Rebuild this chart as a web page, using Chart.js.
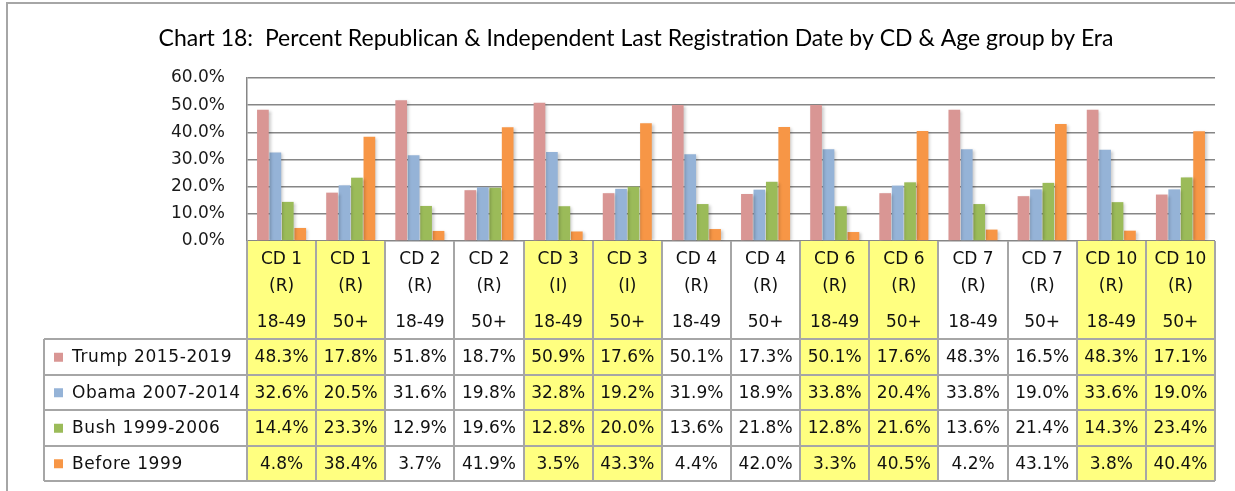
<!DOCTYPE html>
<html>
<head>
<meta charset="utf-8">
<title>Chart 18</title>
<script src="https://cdn.jsdelivr.net/npm/chart.js@4.4.1/dist/chart.umd.min.js"></script>
<style>
  body { margin: 0; background: #fff; }
  canvas { display: block; }
</style>
</head>
<body>
<canvas id="myChart" width="1235" height="491"></canvas>
<script>
// data
var districts = ["CD 1", "CD 1", "CD 2", "CD 2", "CD 3", "CD 3", "CD 4", "CD 4", "CD 6", "CD 6", "CD 7", "CD 7", "CD 10", "CD 10"];
var parties = ["(R)", "(R)", "(R)", "(R)", "(I)", "(I)", "(R)", "(R)", "(R)", "(R)", "(R)", "(R)", "(R)", "(R)"];
var ageGroups = ["18-49", "50+", "18-49", "50+", "18-49", "50+", "18-49", "50+", "18-49", "50+", "18-49", "50+", "18-49", "50+"];
var highlighted = [true, true, false, false, true, true, false, false, true, true, false, false, true, true];

var seriesNames = ["Trump 2015-2019", "Obama 2007-2014", "Bush 1999-2006", "Before 1999"];
var trump = [48.3, 17.8, 51.8, 18.7, 50.9, 17.6, 50.1, 17.3, 50.1, 17.6, 48.3, 16.5, 48.3, 17.1];
var obama = [32.6, 20.5, 31.6, 19.8, 32.8, 19.2, 31.9, 18.9, 33.8, 20.4, 33.8, 19.0, 33.6, 19.0];
var bush = [14.4, 23.3, 12.9, 19.6, 12.8, 20.0, 13.6, 21.8, 12.8, 21.6, 13.6, 21.4, 14.3, 23.4];
var before1999 = [4.8, 38.4, 3.7, 41.9, 3.5, 43.3, 4.4, 42.0, 3.3, 40.5, 4.2, 43.1, 3.8, 40.4];

var colors = ["#D99694", "#95B3D7", "#9BBB59", "#F79646"];
var seriesData = [trump, obama, bush, before1999];

var labels = districts.map(function (d, i) {
  return [d, parties[i], ageGroups[i]];
});

var tableFont = "17px 'DejaVu Sans'";
var textColor = "#111";
var gridGray = "#A6A6A6";

// excel-like drop shadow on the bars
var barShadow = {
  id: "barShadow",
  beforeDatasetsDraw: function (chart) {
    var ctx = chart.ctx;
    ctx.save();
    ctx.shadowColor = "rgba(0,0,0,0.22)";
    ctx.shadowBlur = 3;
    ctx.shadowOffsetX = 2;
    ctx.shadowOffsetY = 1;
  },
  afterDatasetsDraw: function (chart) {
    chart.ctx.restore();
  },
};

// outer frame of the pasted chart
var frame = {
  id: "frame",
  beforeDraw: function (chart) {
    var ctx = chart.ctx;
    ctx.save();
    ctx.fillStyle = "#fff";
    ctx.fillRect(0, 0, chart.width, chart.height);
    ctx.strokeStyle = gridGray;
    ctx.lineWidth = 2;
    ctx.beginPath();
    ctx.moveTo(7, chart.height);
    ctx.lineTo(7, 3);
    ctx.lineTo(chart.width, 3);
    ctx.stroke();
    ctx.restore();
  },
};

// data table under the plot, columns taken from the x scale
var dataTable = {
  id: "dataTable",
  afterDraw: function (chart) {
    var ctx = chart.ctx;
    var x = chart.scales.x;
    var area = chart.chartArea;
    var n = labels.length;
    var w = (area.right - area.left) / n;
    var top = area.bottom;
    var headBottom = top + 98;
    var rowH = 35.5;
    var bottom = headBottom + rowH * 4;
    var legendLeft = 44;

    ctx.save();
    // yellow columns
    ctx.fillStyle = "#FFFF80";
    for (var i = 0; i < n; i++) {
      if (highlighted[i]) {
        ctx.fillRect(area.left + i * w, top, w, bottom - top);
      }
    }

    // grid lines
    ctx.strokeStyle = gridGray;
    ctx.lineWidth = 2;
    ctx.beginPath();
    for (var i = 0; i <= n; i++) {
      var gx = Math.round(area.left + i * w);
      ctx.moveTo(gx, top);
      ctx.lineTo(gx, bottom);
    }
    ctx.moveTo(legendLeft, headBottom);
    ctx.lineTo(legendLeft, bottom);
    for (var r = 0; r <= 4; r++) {
      var gy = Math.round(headBottom + r * rowH);
      ctx.moveTo(legendLeft, gy);
      ctx.lineTo(area.right, gy);
    }
    ctx.stroke();

    // header labels
    ctx.fillStyle = textColor;
    ctx.font = tableFont;
    ctx.textAlign = "center";
    ctx.textBaseline = "middle";
    for (var i = 0; i < n; i++) {
      var cx = x.getPixelForValue(i);
      ctx.fillText(labels[i][0], cx, top + 19);
      ctx.fillText(labels[i][1], cx, top + 46);
      ctx.fillText(labels[i][2], cx, top + 82);
    }

    // values and legend keys
    for (var r = 0; r < 4; r++) {
      var cy = headBottom + r * rowH + rowH / 2 + 1;
      ctx.textAlign = "center";
      ctx.letterSpacing = "0px";
      for (var i = 0; i < n; i++) {
        ctx.fillText(seriesData[r][i].toFixed(1) + "%", x.getPixelForValue(i), cy);
      }
      ctx.fillStyle = colors[r];
      ctx.fillRect(54, cy - 5, 9, 9);
      ctx.fillStyle = textColor;
      ctx.textAlign = "left";
      ctx.letterSpacing = "0.6px";
      ctx.fillText(seriesNames[r], 72, cy);
    }
    ctx.restore();
  },
};

var ctx = document.getElementById("myChart").getContext("2d");

new Chart(ctx, {
  type: "bar",
  data: {
    labels: labels,
    datasets: seriesNames.map(function (name, k) {
      return {
        label: name,
        data: seriesData[k],
        backgroundColor: colors[k],
        categoryPercentage: 0.72,
        barPercentage: 0.94,
      };
    }),
  },
  options: {
    responsive: false,
    animation: false,
    devicePixelRatio: 1,
    layout: {
      padding: { left: 57, right: 20, top: 20, bottom: 250 },
    },
    plugins: {
      legend: { display: false },
      tooltip: { enabled: false },
      title: {
        display: true,
        text: "Chart 18:  Percent Republican & Independent Last Registration Date by CD & Age group by Era",
        color: "#000",
        font: { family: "Lato", size: 23, weight: "normal" },
        padding: { top: 5, bottom: 25.4 },
      },
    },
    scales: {
      x: {
        display: false,
      },
      y: {
        min: 0,
        max: 60,
        afterFit: function (scale) {
          scale.width = 190;
        },
        ticks: {
          stepSize: 10,
          padding: 22,
          color: "#1a1a1a",
          font: { family: "DejaVu Sans", size: 17 },
          callback: function (value) {
            return value.toFixed(1) + "%";
          },
        },
        grid: {
          color: "#868686",
          lineWidth: 1.5,
          drawTicks: false,
        },
        border: { display: true, color: "#868686", width: 1.5 },
      },
    },
  },
  plugins: [frame, barShadow, dataTable],
});
</script>
</body>
</html>
